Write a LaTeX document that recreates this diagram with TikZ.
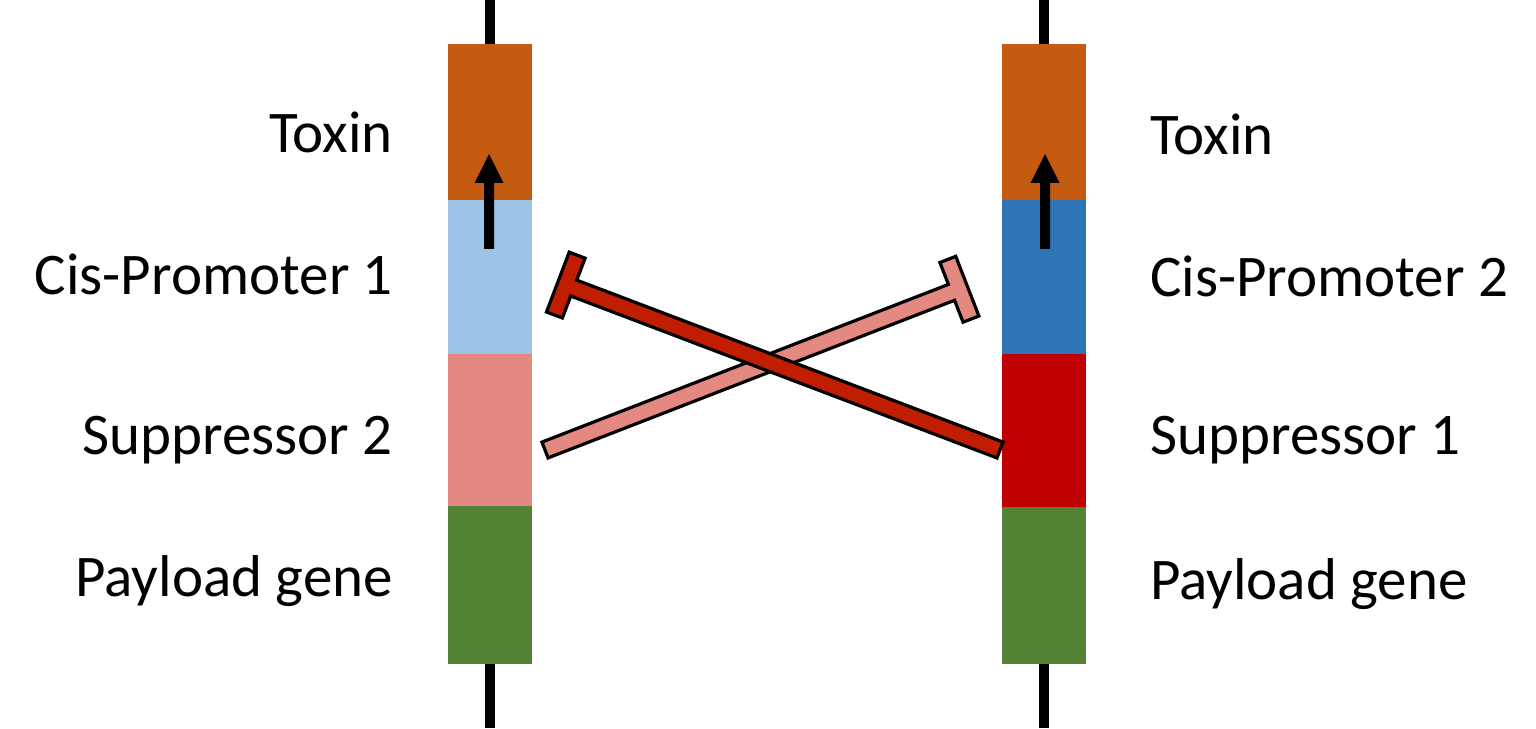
\documentclass[tikz,border=0pt]{standalone}
\usepackage{fontspec}
\setmainfont{Carlito}
\definecolor{toxin}{HTML}{C55A11}
\definecolor{cisone}{HTML}{9DC3E6}
\definecolor{cistwo}{HTML}{2E75B6}
\definecolor{suppone}{HTML}{C00000}
\definecolor{supptwo}{HTML}{E48881}
\definecolor{payload}{HTML}{548235}
\definecolor{inhdark}{HTML}{C11D00}
\definecolor{inhlight}{HTML}{E48981}
\begin{document}
\begin{tikzpicture}[x=1pt,y=1pt,
  block/.style={draw=none, minimum width=83.5pt, minimum height=#1, inner sep=0pt, outer sep=0pt, anchor=north west},
  lab/.style={font=\fontsize{59}{70}\selectfont, inner sep=0pt},
  wire/.style={line width=9.5pt},
  inh/.style={draw=black, line width=3.2pt, line join=miter}]
\useasboundingbox (0,0) rectangle (1536,728);

% left column
\node[block=156pt, fill=toxin]   (tox1) at (448,684) {};
\node[block=154pt, fill=cisone]  (cis1) at (448,528) {};
\node[block=152pt, fill=supptwo] (sup2) at (448,374) {};
\node[block=158pt, fill=payload] (pay1) at (448,222) {};
\coordinate (lt) at (tox1.north |- 0,728);
\coordinate (lb) at (pay1.south |- 0,0);
\draw[wire] (lt) -- (tox1.north);
\draw[wire] (pay1.south) -- (lb);

% right column
\node[block=156pt, fill=toxin]   (tox2) at (1002,684) {};
\node[block=154pt, fill=cistwo]  (cis2) at (1002,528) {};
\node[block=153pt, fill=suppone] (sup1) at (1002,374) {};
\node[block=157pt, fill=payload] (pay2) at (1002,221) {};
\coordinate (rt) at (tox2.north |- 0,728);
\coordinate (rb) at (pay2.south |- 0,0);
\draw[wire] (rt) -- (tox2.north);
\draw[wire] (pay2.south) -- (rb);

% promoter arrows
\fill[shift={(489,0)}] (-5,479) -- (-5,545) -- (-14.5,545) -- (0,574) -- (14.5,545) -- (5,545) -- (5,479) -- cycle;
\fill[shift={(1045,0)}] (-5,479) -- (-5,545) -- (-14.5,545) -- (0,574) -- (14.5,545) -- (5,545) -- (5,479) -- cycle;

% labels
\node[lab, anchor=base east] (l1) at (393,575) {Toxin};
\node[lab, anchor=base east] (l2) at (393,433) {Cis-Promoter 1};
\node[lab, anchor=base east] (l3) at (393,273) {Suppressor 2};
\node[lab, anchor=base east] (l4) at (393,131) {Payload gene};
\node[lab, anchor=base west] (r1) at (1150,573) {Toxin};
\node[lab, anchor=base west] (r2) at (1150,431) {Cis-Promoter 2};
\node[lab, anchor=base west] (r3) at (1150,273) {Suppressor 1};
\node[lab, anchor=base west] (r4) at (1150,128) {Payload gene};

% repression bars
\begin{scope}[shift={(545,278)}, rotate=21.2]
  \filldraw[inh, fill=inhlight] (0,-8.5) -- (436,-8.5) -- (436,-32) -- (453,-32) -- (453,32) -- (436,32) -- (436,8.5) -- (0,8.5) -- cycle;
\end{scope}
\begin{scope}[shift={(1000,278)}, rotate=159.2]
  \filldraw[inh, fill=inhdark] (0,-8.5) -- (456,-8.5) -- (456,-32) -- (473,-32) -- (473,32) -- (456,32) -- (456,8.5) -- (0,8.5) -- cycle;
\end{scope}
\end{tikzpicture}
\end{document}
